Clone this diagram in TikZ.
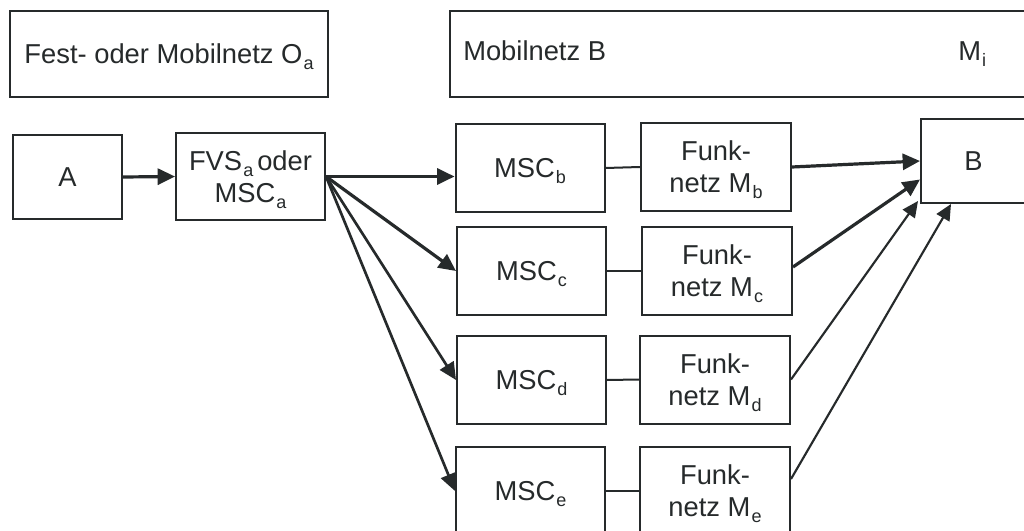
\documentclass[tikz,border=0pt]{standalone}
\usepackage{fontspec}
\setmainfont{Liberation Sans}
\usetikzlibrary{arrows.meta,calc}
\definecolor{ink}{RGB}{38,42,43}
\newcommand\sbs[1]{\hspace{0.8pt}\raisebox{-4.5pt}[0pt][0pt]{\fontsize{13.5}{13.5}\selectfont #1}}
\begin{document}
\begin{tikzpicture}[x=0.75pt,y=-0.75pt,
  box/.style={draw=ink, line width=1.5pt, rectangle, inner sep=0pt, text=ink,
              font=\fontsize{20.5}{24}\selectfont, align=center},
  lbl/.style={inner sep=0pt, text=ink, font=\fontsize{20.5}{24}\selectfont},
  msc/.style={box, minimum width=111.75pt, minimum height=66pt},
  funk/.style={box, minimum width=112.5pt, minimum height=66pt},
  conn/.style={draw=ink, line width=1.5pt},
  thickarr/.style={draw=ink, line width=2.4pt, -{Triangle[length=13pt,width=12pt]}},
  midarr/.style={draw=ink, line width=2pt, -{Triangle[length=13pt,width=12pt]}},
  thinarr/.style={draw=ink, line width=1.6pt, -{Triangle[length=12pt,width=11pt]}}]
\useasboundingbox (0,0) rectangle (1024,531);
\clip (0,0) rectangle (1024,531);
\fill[white] (0,0) rectangle (1024,531);

% header boxes
\node[box, minimum width=238.5pt, minimum height=64.5pt] (fest) at (169,54) {Fest- oder Mobilnetz O\sbs{a}};
\node[box, minimum width=432pt, minimum height=64.5pt] (mob) at (738,54) {};
\node[lbl, anchor=base west] (mobt) at (463,61) {Mobilnetz B};
\node[lbl, anchor=base west] (mi) at (958,61) {M\sbs{i}};

% left chain
\node[box, minimum width=81.75pt, minimum height=63pt] (a) at (67.5,177) {A};
\node[box, minimum width=111.75pt, minimum height=65.25pt] (fvs) at (250.5,176.5) {FVS\sbs{a}\hspace{3pt}oder\\MSC\sbs{a}};

% MSC column
\node[msc] (mscb) at (530,168) {MSC\sbs{b}};
\node[msc] (mscc) at (531.5,271) {MSC\sbs{c}};
\node[msc] (mscd) at (531.5,380) {MSC\sbs{d}};
\node[msc] (msce) at (530.5,491) {MSC\sbs{e}};

% Funknetz column
\node[funk] (funkb) at (716,167) {Funk-\\netz M\sbs{b}};
\node[funk] (funkc) at (717,271) {Funk-\\netz M\sbs{c}};
\node[funk] (funkd) at (715,379.5) {Funk-\\netz M\sbs{d}};
\node[funk] (funke) at (715,491) {Funk-\\netz M\sbs{e}};

% B
\node[box, minimum width=78.75pt, minimum height=63pt] (b) at (973.5,161) {B};

% connectors
\draw[thickarr] (a.east) -- (fvs.west);
\draw[thickarr] (fvs.east) -- (fvs.east -| mscb.west);
\draw[thickarr] (fvs.east) -- (mscc.west);
\draw[midarr] (fvs.east) -- (mscd.west);
\draw[midarr] (fvs.east) -- (msce.west);

\draw[conn] (mscb.east) -- (funkb.west);
\draw[conn] (mscc.east) -- (funkc.west);
\draw[conn] (mscd.east) -- (funkd.west);
\draw[conn] (msce.east) -- (funke.west);

\draw[thickarr] (funkb.east) -- (b.west);
\draw[thickarr] ($(funkc.east)+(0,-4)$) -- ($(b.south west)!0.57!(b.west)$);
\draw[thinarr] (funkd.east) -- ($(b.south west)+(-2,-3)$);
\draw[thinarr] ($(funke.east)+(0,-12)$) -- ($(b.south west)+(31,0)$);
\end{tikzpicture}
\end{document}
